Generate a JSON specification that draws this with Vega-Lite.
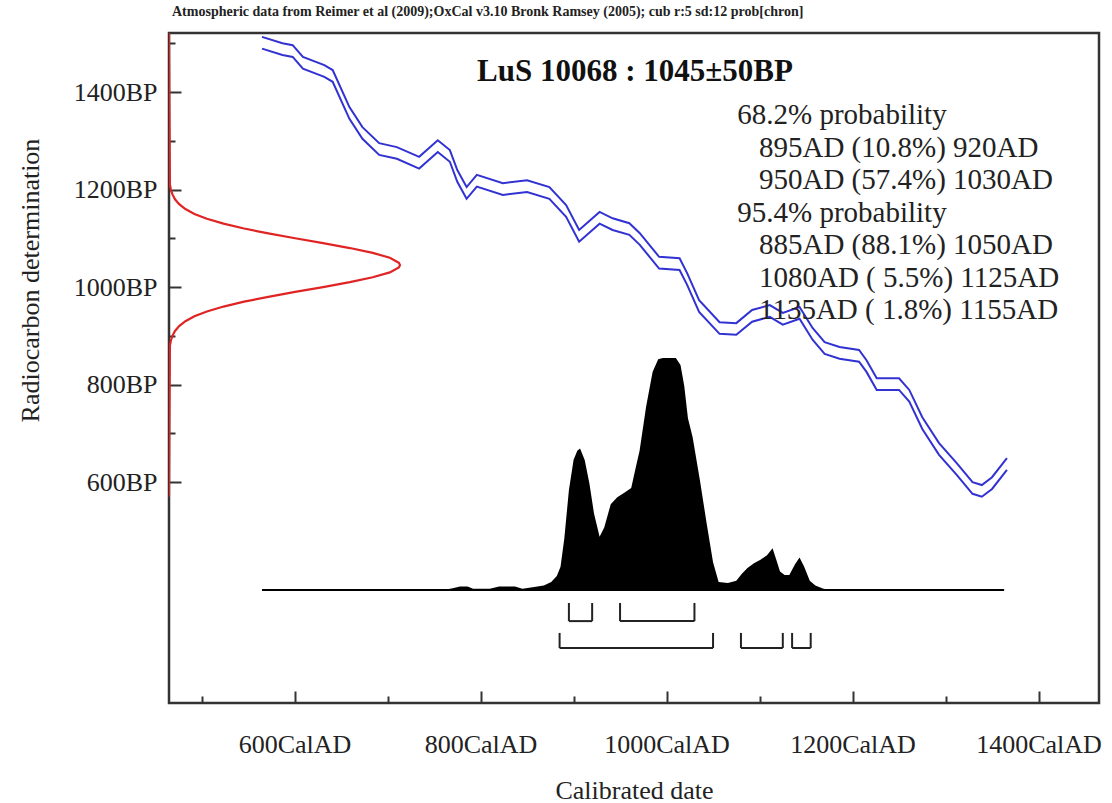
{
  "$schema": "https://vega.github.io/schema/vega-lite/v6.json",
  "width": 930,
  "height": 670,
  "autosize": {"type": "none"},
  "padding": {"left": 169, "top": 33, "right": 13, "bottom": 100},
  "background": "white",
  "config": {
    "font": "Liberation Serif",
    "view": {"stroke": "#333", "strokeWidth": 2.5}
  },
  "title": {
    "text": "Atmospheric data from Reimer et al (2009);OxCal v3.10 Bronk Ramsey (2005); cub r:5 sd:12 prob[chron]",
    "anchor": "start",
    "frame": "group",
    "fontSize": 14,
    "fontWeight": "bold",
    "font": "Liberation Serif",
    "color": "#222",
    "offset": 11,
    "dx": 3
  },
  "datasets": {
    "curve": [
      {"year": 565, "hi": 1513, "lo": 1489},
      {"year": 587, "hi": 1500, "lo": 1476},
      {"year": 598, "hi": 1496, "lo": 1472},
      {"year": 609, "hi": 1472, "lo": 1448},
      {"year": 632, "hi": 1455, "lo": 1431},
      {"year": 641, "hi": 1445, "lo": 1421},
      {"year": 659, "hi": 1369, "lo": 1345},
      {"year": 673, "hi": 1328, "lo": 1304},
      {"year": 691, "hi": 1295, "lo": 1271},
      {"year": 710, "hi": 1287, "lo": 1263},
      {"year": 734, "hi": 1267, "lo": 1243},
      {"year": 754, "hi": 1301, "lo": 1277},
      {"year": 767, "hi": 1281, "lo": 1257},
      {"year": 775, "hi": 1240, "lo": 1216},
      {"year": 785, "hi": 1205, "lo": 1181},
      {"year": 796, "hi": 1230, "lo": 1206},
      {"year": 824, "hi": 1213, "lo": 1189},
      {"year": 850, "hi": 1219, "lo": 1195},
      {"year": 874, "hi": 1205, "lo": 1181},
      {"year": 892, "hi": 1168, "lo": 1144},
      {"year": 906, "hi": 1117, "lo": 1093},
      {"year": 928, "hi": 1154, "lo": 1130},
      {"year": 942, "hi": 1141, "lo": 1117},
      {"year": 960, "hi": 1131, "lo": 1107},
      {"year": 971, "hi": 1111, "lo": 1087},
      {"year": 992, "hi": 1062, "lo": 1038},
      {"year": 1014, "hi": 1059, "lo": 1035},
      {"year": 1022, "hi": 1029, "lo": 1005},
      {"year": 1035, "hi": 973, "lo": 949},
      {"year": 1057, "hi": 928, "lo": 904},
      {"year": 1075, "hi": 926, "lo": 902},
      {"year": 1092, "hi": 953, "lo": 929},
      {"year": 1111, "hi": 963, "lo": 939},
      {"year": 1125, "hi": 947, "lo": 923},
      {"year": 1143, "hi": 959, "lo": 935},
      {"year": 1157, "hi": 916, "lo": 892},
      {"year": 1170, "hi": 887, "lo": 863},
      {"year": 1186, "hi": 877, "lo": 853},
      {"year": 1207, "hi": 871, "lo": 847},
      {"year": 1215, "hi": 850, "lo": 826},
      {"year": 1226, "hi": 813, "lo": 789},
      {"year": 1250, "hi": 813, "lo": 789},
      {"year": 1261, "hi": 789, "lo": 765},
      {"year": 1275, "hi": 733, "lo": 709},
      {"year": 1293, "hi": 680, "lo": 656},
      {"year": 1312, "hi": 639, "lo": 615},
      {"year": 1329, "hi": 600, "lo": 576},
      {"year": 1339, "hi": 594, "lo": 570},
      {"year": 1350, "hi": 610, "lo": 586},
      {"year": 1366, "hi": 649, "lo": 625}
    ],
    "c14": [
      {"bp": 570, "dens": 0},
      {"bp": 880, "dens": 0.004},
      {"bp": 890, "dens": 0.008},
      {"bp": 900, "dens": 0.015},
      {"bp": 910, "dens": 0.026},
      {"bp": 920, "dens": 0.044},
      {"bp": 930, "dens": 0.071},
      {"bp": 940, "dens": 0.11},
      {"bp": 950, "dens": 0.164},
      {"bp": 960, "dens": 0.236},
      {"bp": 970, "dens": 0.325},
      {"bp": 980, "dens": 0.43},
      {"bp": 990, "dens": 0.546},
      {"bp": 1000, "dens": 0.667},
      {"bp": 1010, "dens": 0.783},
      {"bp": 1020, "dens": 0.882},
      {"bp": 1030, "dens": 0.956},
      {"bp": 1040, "dens": 0.995},
      {"bp": 1045, "dens": 1},
      {"bp": 1050, "dens": 0.995},
      {"bp": 1060, "dens": 0.956},
      {"bp": 1070, "dens": 0.882},
      {"bp": 1080, "dens": 0.783},
      {"bp": 1090, "dens": 0.667},
      {"bp": 1100, "dens": 0.546},
      {"bp": 1110, "dens": 0.43},
      {"bp": 1120, "dens": 0.325},
      {"bp": 1130, "dens": 0.236},
      {"bp": 1140, "dens": 0.164},
      {"bp": 1150, "dens": 0.11},
      {"bp": 1160, "dens": 0.071},
      {"bp": 1170, "dens": 0.044},
      {"bp": 1180, "dens": 0.026},
      {"bp": 1190, "dens": 0.015},
      {"bp": 1200, "dens": 0.008},
      {"bp": 1210, "dens": 0.004},
      {"bp": 1521, "dens": 0}
    ],
    "prob": [
      {"year": 565, "p": 0},
      {"year": 760, "p": 0},
      {"year": 770, "p": 0.008},
      {"year": 778, "p": 0.015},
      {"year": 786, "p": 0.015},
      {"year": 792, "p": 0.006},
      {"year": 810, "p": 0.005},
      {"year": 820, "p": 0.015},
      {"year": 837, "p": 0.015},
      {"year": 845, "p": 0.006},
      {"year": 856, "p": 0.012},
      {"year": 868, "p": 0.02},
      {"year": 876, "p": 0.035},
      {"year": 882, "p": 0.06},
      {"year": 886, "p": 0.1},
      {"year": 890, "p": 0.22},
      {"year": 895, "p": 0.43},
      {"year": 900, "p": 0.56},
      {"year": 904, "p": 0.6},
      {"year": 907, "p": 0.61},
      {"year": 912, "p": 0.56},
      {"year": 917, "p": 0.46},
      {"year": 922, "p": 0.33},
      {"year": 928, "p": 0.23},
      {"year": 933, "p": 0.27},
      {"year": 940, "p": 0.37},
      {"year": 947, "p": 0.4},
      {"year": 955, "p": 0.42},
      {"year": 962, "p": 0.44},
      {"year": 967, "p": 0.53},
      {"year": 971, "p": 0.6},
      {"year": 978, "p": 0.79},
      {"year": 985, "p": 0.94},
      {"year": 991, "p": 0.995},
      {"year": 996, "p": 1},
      {"year": 1010, "p": 1},
      {"year": 1015, "p": 0.97},
      {"year": 1019, "p": 0.88},
      {"year": 1023, "p": 0.74},
      {"year": 1028, "p": 0.66},
      {"year": 1036, "p": 0.47},
      {"year": 1043, "p": 0.29},
      {"year": 1050, "p": 0.12},
      {"year": 1056, "p": 0.035},
      {"year": 1066, "p": 0.03},
      {"year": 1075, "p": 0.04},
      {"year": 1081, "p": 0.07},
      {"year": 1087, "p": 0.095},
      {"year": 1094, "p": 0.115},
      {"year": 1101, "p": 0.13},
      {"year": 1108, "p": 0.15},
      {"year": 1114, "p": 0.18},
      {"year": 1118, "p": 0.13},
      {"year": 1122, "p": 0.08},
      {"year": 1127, "p": 0.065},
      {"year": 1132, "p": 0.065},
      {"year": 1138, "p": 0.11},
      {"year": 1143, "p": 0.14},
      {"year": 1148, "p": 0.1},
      {"year": 1154, "p": 0.04},
      {"year": 1160, "p": 0.02},
      {"year": 1168, "p": 0.007},
      {"year": 1175, "p": 0},
      {"year": 1363, "p": 0}
    ],
    "ranges": [
      {"level": "68.2%", "start": 895, "end": 920},
      {"level": "68.2%", "start": 950, "end": 1030},
      {"level": "95.4%", "start": 885, "end": 1050},
      {"level": "95.4%", "start": 1080, "end": 1125},
      {"level": "95.4%", "start": 1135, "end": 1155}
    ]
  },
  "layer": [
    {
      "data": {"name": "curve"},
      "layer": [
        {
          "mark": {"type": "line", "color": "#3232d2", "strokeWidth": 2, "clip": true},
          "encoding": {
            "x": {
              "field": "year", "type": "quantitative",
              "scale": {"domain": [465, 1465], "nice": false, "zero": false},
              "axis": {
                "title": "Calibrated date",
                "values": [500, 600, 700, 800, 900, 1000, 1100, 1200, 1300, 1400],
                "labelExpr": "datum.value % 200 == 0 ? datum.value + 'CalAD' : ''",
                "tickSize": {"condition": {"test": "datum.value % 200 == 0", "value": -12}, "value": -7},
                "tickWidth": 2,
                "tickColor": "#333",
                "domain": false,
                "grid": false,
                "labelFontSize": 26,
                "labelColor": "#222",
                "labelPadding": 40,
                "labelFlush": false,
                "labelOverlap": false,
                "titleFontSize": 26,
                "titleFontWeight": "normal",
                "titleColor": "#222",
                "titleY": 87,
                "titleBaseline": "middle"
              }
            },
            "y": {
              "field": "hi", "type": "quantitative",
              "scale": {"domain": [147, 1521], "nice": false, "zero": false},
              "axis": {
                "title": "Radiocarbon determination",
                "values": [600, 700, 800, 900, 1000, 1100, 1200, 1300, 1400, 1500],
                "labelExpr": "datum.value % 200 == 0 ? datum.value + 'BP' : ''",
                "tickSize": {"condition": {"test": "datum.value % 200 == 0", "value": -12}, "value": -6},
                "tickWidth": 2,
                "tickColor": "#333",
                "domain": false,
                "grid": false,
                "labelFontSize": 26,
                "labelColor": "#222",
                "labelPadding": 24,
                "labelOverlap": false,
                "titleFontSize": 26,
                "titleFontWeight": "normal",
                "titleColor": "#222",
                "titleAngle": -90,
                "titleX": -139,
                "titleY": 247,
                "titleAlign": "center",
                "titleBaseline": "middle"
              }
            }
          }
        },
        {
          "mark": {"type": "line", "color": "#3232d2", "strokeWidth": 2, "clip": true},
          "encoding": {
            "x": {"field": "year", "type": "quantitative"},
            "y": {"field": "lo", "type": "quantitative"}
          }
        },
        {
          "data": {"values": [{}]},
          "mark": {"type": "text", "text": "LuS 10068 : 1045±50BP", "fontSize": 31, "fontWeight": "bold", "color": "#111", "align": "center", "baseline": "middle"},
          "encoding": {
            "x": {"datum": 966, "type": "quantitative"},
            "y": {"datum": 1441, "type": "quantitative"}
          }
        },
        {
          "data": {"values": [{}]},
          "mark": {
            "type": "text",
            "text": [
              "68.2% probability",
              "\u200b\u00a0\u00a0\u00a0895AD (10.8%) 920AD",
              "\u200b\u00a0\u00a0\u00a0950AD (57.4%) 1030AD",
              "95.4% probability",
              "\u200b\u00a0\u00a0\u00a0885AD (88.1%) 1050AD",
              "\u200b\u00a0\u00a0\u00a01080AD ( 5.5%) 1125AD",
              "\u200b\u00a0\u00a0\u00a01135AD ( 1.8%) 1155AD"
            ],
            "fontSize": 29,
            "lineHeight": 32.5,
            "color": "#222",
            "align": "left",
            "baseline": "top"
          },
          "encoding": {
            "x": {"datum": 1076, "type": "quantitative"},
            "y": {"datum": 1381, "type": "quantitative"}
          }
        }
      ]
    },
    {
      "data": {"name": "c14"},
      "mark": {"type": "line", "color": "#e02424", "strokeWidth": 2.2, "clip": true},
      "encoding": {
        "x": {"field": "dens", "type": "quantitative", "scale": {"domain": [0, 4.026], "nice": false, "zero": false}, "axis": null},
        "y": {"field": "bp", "type": "quantitative", "scale": {"domain": [147, 1521], "nice": false, "zero": false}, "axis": null},
        "order": {"field": "bp", "type": "quantitative"}
      }
    },
    {
      "layer": [
        {
          "data": {"name": "prob"},
          "mark": {"type": "area", "color": "#000", "opacity": 1},
          "encoding": {
            "x": {"field": "year", "type": "quantitative", "scale": {"domain": [465, 1465], "nice": false, "zero": false}, "axis": null},
            "y": {"field": "p", "type": "quantitative", "scale": {"domain": [-0.487, 2.401], "nice": false, "zero": false}, "axis": null}
          }
        },
        {
          "data": {"values": [{}]},
          "mark": {"type": "rule", "color": "#000", "strokeWidth": 2},
          "encoding": {
            "x": {"datum": 565, "type": "quantitative"},
            "x2": {"datum": 1363},
            "y": {"datum": 0, "type": "quantitative"}
          }
        },
        {
          "data": {"name": "ranges"},
          "transform": [{"filter": "datum.level == '68.2%'"}],
          "layer": [
            {
              "mark": {"type": "rule", "color": "#222", "strokeWidth": 2},
              "encoding": {"x": {"field": "start", "type": "quantitative"}, "x2": {"field": "end"}, "y": {"datum": -0.134, "type": "quantitative"}}
            },
            {
              "mark": {"type": "rule", "color": "#222", "strokeWidth": 2},
              "encoding": {"x": {"field": "start", "type": "quantitative"}, "y": {"datum": -0.134, "type": "quantitative"}, "y2": {"datum": -0.056}}
            },
            {
              "mark": {"type": "rule", "color": "#222", "strokeWidth": 2},
              "encoding": {"x": {"field": "end", "type": "quantitative"}, "y": {"datum": -0.134, "type": "quantitative"}, "y2": {"datum": -0.056}}
            }
          ]
        },
        {
          "data": {"name": "ranges"},
          "transform": [{"filter": "datum.level == '95.4%'"}],
          "layer": [
            {
              "mark": {"type": "rule", "color": "#222", "strokeWidth": 2},
              "encoding": {"x": {"field": "start", "type": "quantitative"}, "x2": {"field": "end"}, "y": {"datum": -0.25, "type": "quantitative"}}
            },
            {
              "mark": {"type": "rule", "color": "#222", "strokeWidth": 2},
              "encoding": {"x": {"field": "start", "type": "quantitative"}, "y": {"datum": -0.25, "type": "quantitative"}, "y2": {"datum": -0.185}}
            },
            {
              "mark": {"type": "rule", "color": "#222", "strokeWidth": 2},
              "encoding": {"x": {"field": "end", "type": "quantitative"}, "y": {"datum": -0.25, "type": "quantitative"}, "y2": {"datum": -0.185}}
            }
          ]
        }
      ]
    }
  ],
  "resolve": {"scale": {"x": "independent", "y": "independent"}}
}
